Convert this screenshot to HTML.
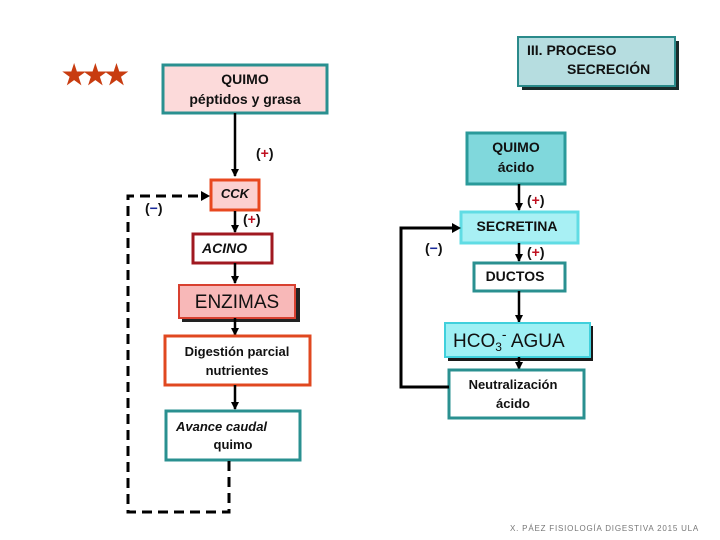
<!DOCTYPE html>
<html><head><meta charset="utf-8"><style>
html,body{margin:0;padding:0;background:#fff;}
svg{display:block;}
text{font-family:"Liberation Sans",sans-serif;font-weight:bold;fill:#111;}
</style></head><body>
<svg width="720" height="540" viewBox="0 0 720 540" xmlns="http://www.w3.org/2000/svg">
<defs>
<marker id="ah" markerWidth="8" markerHeight="8" refX="7" refY="4" orient="auto" markerUnits="userSpaceOnUse">
<path d="M0,0 L8,4 L0,8 Z" fill="#000"/></marker>
</defs>
<rect width="720" height="540" fill="#fff"/>
<text x="62" y="84" style="font-size:27px;fill:#c83c10;letter-spacing:-3px">★★★</text>
<rect x="522" y="41" width="157" height="49" fill="#1a2a2a"/>
<rect x="518" y="37" width="157" height="49" fill="#b6dde0" stroke="#2a8a8a" stroke-width="2"/>
<text x="527" y="55" style="font-size:14px">III. PROCESO</text>
<text x="567" y="74" style="font-size:14px">SECRECIÓN</text>
<rect x="163" y="65" width="164" height="48" fill="#fcdada" stroke="#2a9090" stroke-width="3"/>
<text x="245" y="84" text-anchor="middle" style="font-size:14px">QUIMO</text>
<text x="245" y="104" text-anchor="middle" style="font-size:14px">péptidos y grasa</text>
<line x1="235" y1="113" x2="235" y2="176" stroke="#000" stroke-width="2.5" marker-end="url(#ah)"/>
<text x="256" y="158" style="font-size:14px">(<tspan style="fill:#c01020">+</tspan>)</text>
<rect x="211" y="180" width="48" height="30" fill="#fcd0d0" stroke="#e84820" stroke-width="3"/>
<text x="235" y="198" text-anchor="middle" style="font-size:13px;font-style:italic">CCK</text>
<line x1="235" y1="211" x2="235" y2="232" stroke="#000" stroke-width="2.5" marker-end="url(#ah)"/>
<text x="243" y="224" style="font-size:14px">(<tspan style="fill:#c01020">+</tspan>)</text>
<text x="145" y="213" style="font-size:14px">(<tspan style="fill:#1a2a9a">−</tspan>)</text>
<rect x="193" y="234" width="79" height="29" fill="#fff" stroke="#a01820" stroke-width="3"/>
<text x="202" y="253" style="font-size:14px;font-style:italic">ACINO</text>
<line x1="235" y1="263" x2="235" y2="283" stroke="#000" stroke-width="2.5" marker-end="url(#ah)"/>
<rect x="182" y="288" width="118" height="34" fill="#222"/>
<rect x="179" y="285" width="116" height="33" fill="#f8b8b8" stroke="#d84030" stroke-width="2"/>
<text x="237" y="308" text-anchor="middle" style="font-size:19px;font-weight:normal">ENZIMAS</text>
<line x1="235" y1="318" x2="235" y2="335" stroke="#000" stroke-width="2.5" marker-end="url(#ah)"/>
<rect x="165" y="336" width="145" height="49" fill="#fff" stroke="#e04820" stroke-width="3"/>
<text x="237" y="356" text-anchor="middle" style="font-size:13px">Digestión parcial</text>
<text x="237" y="375" text-anchor="middle" style="font-size:13px">nutrientes</text>
<line x1="235" y1="385" x2="235" y2="409" stroke="#000" stroke-width="2.5" marker-end="url(#ah)"/>
<rect x="166" y="411" width="134" height="49" fill="#fff" stroke="#2a9090" stroke-width="3"/>
<text x="176" y="431" style="font-size:13px;font-style:italic">Avance caudal</text>
<text x="233" y="449" text-anchor="middle" style="font-size:13px">quimo</text>
<path d="M229,461 L229,512 L128,512 L128,196 L206,196" fill="none" stroke="#000" stroke-width="3" stroke-dasharray="10,6"/>
<path d="M201,191 L210,196 L201,201 Z" fill="#000"/>
<rect x="467" y="133" width="98" height="51" fill="#80d8dc" stroke="#2a9a9a" stroke-width="3"/>
<text x="516" y="152" text-anchor="middle" style="font-size:14px">QUIMO</text>
<text x="516" y="172" text-anchor="middle" style="font-size:14px">ácido</text>
<line x1="519" y1="184" x2="519" y2="210" stroke="#000" stroke-width="2.5" marker-end="url(#ah)"/>
<text x="527" y="205" style="font-size:14px">(<tspan style="fill:#c01020">+</tspan>)</text>
<rect x="461" y="212" width="117" height="31" fill="#a8f0f4" stroke="#60dce4" stroke-width="3"/>
<text x="517" y="231" text-anchor="middle" style="font-size:14px">SECRETINA</text>
<line x1="519" y1="243" x2="519" y2="261" stroke="#000" stroke-width="2.5" marker-end="url(#ah)"/>
<text x="527" y="257" style="font-size:14px">(<tspan style="fill:#c01020">+</tspan>)</text>
<text x="425" y="253" style="font-size:14px">(<tspan style="fill:#1a2a9a">−</tspan>)</text>
<rect x="474" y="263" width="91" height="28" fill="#fff" stroke="#2a9090" stroke-width="3"/>
<text x="515" y="281" text-anchor="middle" style="font-size:14px">DUCTOS</text>
<line x1="519" y1="291" x2="519" y2="322" stroke="#000" stroke-width="2.5" marker-end="url(#ah)"/>
<rect x="448" y="326" width="145" height="35" fill="#1a1a1a"/>
<rect x="445" y="323" width="145" height="34" fill="#9ef0f4" stroke="#40d0dc" stroke-width="2"/>
<text x="453" y="347" style="font-size:19px;font-weight:normal">HCO<tspan dy="4" style="font-size:12px">3</tspan><tspan dy="-12" style="font-size:14px">-</tspan><tspan dy="8"> AGUA</tspan></text>
<line x1="519" y1="357" x2="519" y2="369" stroke="#000" stroke-width="2.5" marker-end="url(#ah)"/>
<rect x="449" y="370" width="135" height="48" fill="#fff" stroke="#2a9090" stroke-width="3"/>
<text x="513" y="389" text-anchor="middle" style="font-size:13px">Neutralización</text>
<text x="513" y="408" text-anchor="middle" style="font-size:13px">ácido</text>
<path d="M449,387 L401,387 L401,228 L457,228" fill="none" stroke="#000" stroke-width="3"/>
<path d="M452,223 L461,228 L452,233 Z" fill="#000"/>
<text x="510" y="531" style="font-size:8px;font-weight:normal;fill:#777;letter-spacing:0.8px">X. PÁEZ  FISIOLOGÍA DIGESTIVA 2015  ULA</text>
</svg>
</body></html>
